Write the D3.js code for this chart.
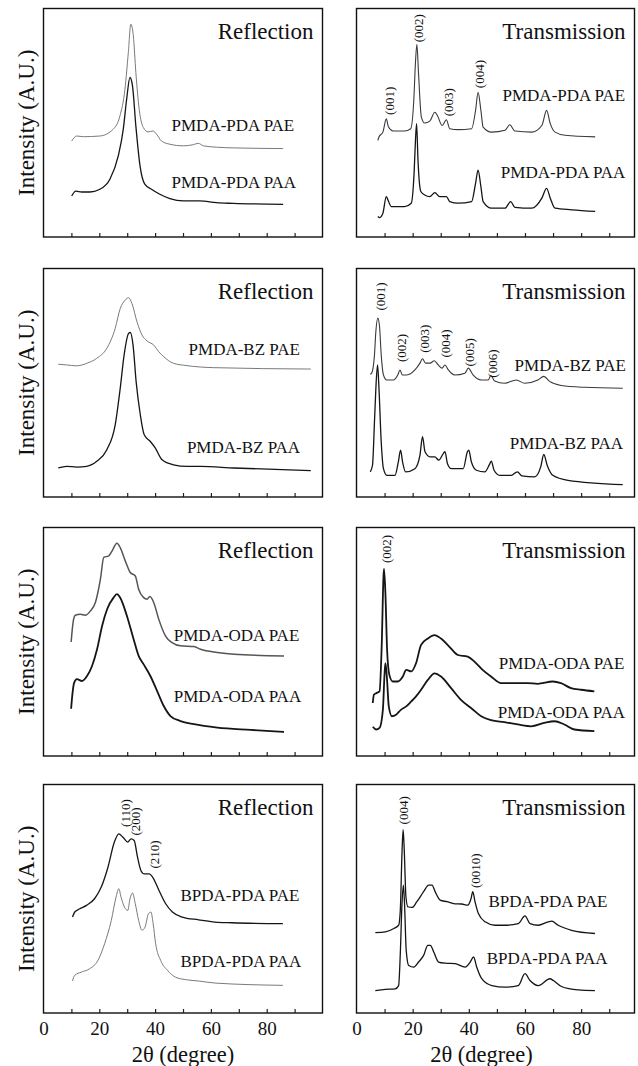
<!DOCTYPE html>
<html>
<head>
<meta charset="utf-8">
<script src="https://cdn.jsdelivr.net/npm/d3@7"></script>
<style>
body { margin: 0; background: #fff; }
svg { display: block; }
text { font-family: "Liberation Serif", "Times New Roman", serif; fill: #111; }
</style>
</head>
<body>
<svg id="fig" width="638" height="1066"></svg>
<script>
// curves: [2theta, intensity in % of panel height]
var pdaReflPAE = [[10.1,42.0],[11.9,44.2],[14.3,43.9],[20.2,44.2],[25,47.2],[27.4,53],[29.2,64.7],[30.4,80.7],[31.3,93.1],[32.2,88],[33.1,72],[34.3,55.9],[35.8,47.9],[37.5,46],[39.3,46.4],[40.5,45],[42.3,42],[45.3,40.6],[50.1,39.9],[53.7,40.4],[55.5,41],[57.3,39.9],[62,39.3],[68,39],[85.9,38.7]];
var pdaReflPAA = [[10.1,18],[11.6,20.1],[13.7,19.7],[16.6,19.7],[20.2,20.9],[23.8,25.3],[26.8,35.5],[28.6,47.2],[29.8,60.3],[31,69.8],[31.9,66.1],[33.1,48.6],[34.6,31.1],[36.3,23.1],[38.7,20.9],[41.7,18.7],[45.3,16.8],[50.1,15.8],[56,15.8],[62,15],[68,14.7],[85.9,14.3]];
var pdaTransPAE = [[7.6,42.3],[8,43.8],[9.4,45.9],[10.6,51.7],[11.4,48.1],[13,46.4],[17.1,46.4],[19.3,47.4],[20.4,59.7],[21,76.4],[21.5,84.3],[22.1,71.3],[23.1,52.5],[24.3,49.9],[26.1,50.7],[27.9,54.6],[28.8,53.2],[30.5,48.8],[32,51.3],[33.2,47.4],[36.2,47],[41,47.4],[42.4,55.4],[43.3,63.3],[44.3,55.4],[45.1,48.1],[48.1,45.9],[52.9,46.7],[54.6,49.1],[56.4,46.4],[62.4,45.9],[66,48.8],[67.7,55.4],[69,49.6],[70.7,45.9],[74.3,44.5],[85,43.8]];
var pdaTransPAA = [[7.6,9],[8.2,8.5],[9.4,10.4],[10.6,17.7],[11.2,16.2],[12.4,13.3],[17.1,13.3],[19.5,14.8],[20.5,27.8],[21,42.3],[21.4,49.6],[21.9,33.6],[22.9,19.9],[24.3,18.4],[26.1,17.7],[27.9,19.4],[29.6,17.7],[32,17.7],[33.2,15.5],[36.2,14.8],[41,15.5],[42.4,23.5],[43.3,29.3],[44.3,22],[45.1,15.5],[48.1,12.6],[52.9,12.6],[54.9,15.5],[56.4,13],[62.4,12.6],[66,17],[67.7,21.3],[69,17],[70.7,12.6],[76.7,11.9],[85,11.2]];

var bzReflPAE = [[5.3,58.1],[8.3,57.8],[11.9,57.4],[15.5,58.5],[19.1,60.7],[22.7,65.1],[25.7,73.8],[27.5,82.5],[29.3,86.2],[30.5,87.2],[31.7,84.7],[33.5,76.7],[35.3,70.9],[37.1,68.3],[39.5,66.5],[41.3,63.6],[43.1,61.4],[46.6,58.5],[51.4,57.5],[61,56.6],[95.8,56]];
var bzReflPAA = [[5.3,12.7],[8.3,13.4],[11.9,13.1],[15.5,13.4],[19.1,15.6],[22.7,20.7],[25.7,31.6],[27.5,47.6],[28.9,62.2],[30.5,71.6],[31.1,72],[32.1,66.5],[33.2,50.5],[34.7,36],[36.1,27.2],[38.3,24.3],[40.1,21.4],[42.5,16.3],[46.6,14.1],[51.4,13.4],[56.2,13.4],[68.2,12.7],[95.8,11.5]];
var bzTransPAE = [[4.9,53.7],[5.4,54.2],[6.4,62.2],[6.9,72.5],[7.6,78.3],[8.2,74.7],[8.8,62.2],[9.6,53.4],[10.8,51.2],[13.1,51.2],[14.7,53.4],[15.5,55.6],[16.3,53.4],[17.9,53.4],[20.8,55.6],[22.6,58.6],[23.5,60.5],[24.6,58.6],[26.2,58.6],[27.7,59.6],[29.1,57.8],[30.5,56.4],[31.5,57.8],[32.7,55.6],[35,53.4],[38.6,54.2],[39.8,56.4],[41.5,53.4],[44.5,51.2],[46.9,51.2],[47.8,53.1],[49.2,50.8],[52.8,49.8],[56.9,51.2],[59.9,49.8],[64.6,51.2],[66.7,52.8],[68.8,50.6],[72.9,48.8],[81.2,48],[94.8,47.6]];
var bzTransPAA = [[4.9,11],[5.7,13.9],[6.4,32.9],[6.9,47.6],[7.5,57.8],[8,47.6],[8.8,24.2],[9.6,12.4],[10.8,9.5],[13.7,9.5],[14.9,15.4],[15.7,20.5],[16.4,15.4],[17.5,11],[20.8,12.4],[22.6,18.3],[23.5,26.4],[24.4,19.8],[26.2,17.6],[27.9,17.6],[29.3,16.1],[30.9,19],[31.5,19.8],[32.4,14.6],[33.8,12.4],[38,12.4],[39.5,19.8],[40,20.5],[40.9,15.4],[42.7,11.7],[45.7,11],[47.5,14.6],[48,15.7],[49,11.7],[51,9.5],[55.1,9.5],[57.3,11],[58.9,9.2],[63.4,8.8],[65.6,13.2],[66.7,18.6],[67.9,13.9],[69.9,9.5],[75.3,7.3],[94.8,5.4]];

var odaReflPAE = [[9.9,49.9],[10.2,54],[10.8,59.9],[11.4,61.6],[13.2,62],[15,61.6],[16.8,63.5],[18.6,67.2],[20.4,77.4],[21.6,86.9],[23.4,87.6],[24.6,89.8],[26.3,93.1],[27.5,91.2],[29.3,85.4],[31.1,80.3],[32.9,78.8],[34.1,73],[35.9,69.3],[37.1,68.6],[38.1,69.8],[39.5,67.2],[41.3,59.9],[43.7,52.6],[46.1,49.6],[49.1,48.2],[53.9,47.9],[56.3,46.7],[62.3,45.3],[68.3,44.5],[86.2,43.8]];
var odaReflPAA = [[9.9,20.7],[10.3,26.3],[11,32.1],[12,33.6],[13.8,32.8],[15.6,35],[17.4,39.4],[19.2,46.7],[21,56.9],[22.8,64.2],[25.1,69.3],[26.3,70.8],[27.5,69.3],[29.9,61.3],[32.3,51.1],[34.1,43.8],[35.9,40.1],[38.3,35],[40.7,28.5],[43.1,21.9],[45.5,17.5],[49.1,15.3],[53.9,13.9],[62.3,12.4],[74.3,11.4],[86.2,10.5]];
var odaTransPAE = [[5.8,23.2],[6.2,26.8],[7,27.5],[8.2,28.3],[9,49.3],[9.6,78.3],[9.8,81.9],[10.3,71],[10.9,46.4],[11.7,35.5],[12.9,32.6],[14.7,32.6],[16.5,34.8],[17.7,37.7],[19.5,37],[21.2,40.6],[23,48.6],[25.4,51.4],[27.8,52.9],[30.1,51.4],[33.1,47.8],[36.1,44.2],[39.6,43.5],[42,41.3],[44.9,37.7],[47.9,34.8],[51.5,31.9],[55,31.9],[61,31.9],[64.5,31.6],[69.9,32.6],[72.8,31.9],[76.4,29.7],[80,29],[84.7,28.3]];
var odaTransPAA = [[5.8,12.8],[7,11.6],[8.2,12.3],[9.4,20.3],[10,36.2],[10.3,40.6],[10.8,34.8],[11.5,21.7],[12.6,17.4],[14.1,18.1],[15.9,20.3],[17.7,21.7],[19.5,23.9],[21.2,26.1],[23,29],[25.4,33.3],[27.8,36.2],[30.1,34.8],[33.7,29.7],[37.2,24.6],[40.8,21],[44.4,17.4],[47.9,15.7],[52.7,14.8],[57.4,13.8],[62.2,13],[66.9,14.5],[70.5,15.2],[74,13.8],[77.6,11.6],[84.7,10.9]];

var bpdaReflPAE = [[10.4,42],[11.2,44.2],[13,45.6],[15.4,47.1],[18.3,50],[20.7,55.1],[23.1,63.8],[25.4,74.8],[27,78.4],[28.4,77],[30.2,74.8],[31.4,76.2],[32.5,75.5],[33.7,68.2],[34.9,62.4],[36.1,60.9],[37.9,60.9],[39.1,59.5],[41.4,53.6],[43.8,47.8],[46.2,44.2],[49.7,42],[55.6,40.8],[61.5,39.8],[67.5,39.5],[85.8,39.1]];
var bpdaReflPAA = [[10.4,14],[11.2,16.5],[13.6,17.9],[16.6,19.4],[19.5,23],[21.9,30.3],[24.3,40.5],[26,50.7],[27,54.4],[27.8,50.7],[29,46.4],[30.2,44.9],[31,50],[31.9,52.5],[32.9,47.8],[34.1,40.5],[35.3,36.2],[36.4,37.6],[37.6,43.4],[38.5,44.2],[39.3,39.1],[40.2,30.3],[42,23],[44.4,18.7],[47.3,15.7],[50.9,14.6],[55.6,14],[61.5,13.1],[85.8,12.1]];
var bpdaTransPAE = [[6.7,35.2],[10.3,35.5],[13.3,37],[15,38.4],[15.6,45],[16.2,70],[16.6,80.2],[17,71.4],[17.6,50.9],[18.3,46.5],[19.8,46.2],[21.5,48.7],[23.9,53.1],[25.7,56],[26.9,56],[28,53.1],[29.8,49.4],[32.2,48.7],[34.6,47.9],[37.5,47.7],[39.6,47.2],[40.8,50.1],[41.4,53.1],[42.2,48.7],[43.4,43.5],[45.8,39.9],[49.3,38.4],[52.9,38.4],[57.6,39.1],[60,42.5],[61.8,39.1],[64.7,38.4],[68.3,39.9],[69.5,40.2],[71.8,38.4],[76.6,36.2],[84.9,34.8]];
var bpdaTransPAA = [[6.7,9.8],[10.3,10.3],[13.8,10.6],[15,12],[15.6,26],[16.2,47.9],[16.7,56],[17.1,47.9],[17.7,27.4],[18.6,20.8],[20.4,20.1],[22.1,22.3],[23.9,25.2],[25.4,29.6],[26.3,29.6],[27.5,26.7],[29.2,22.3],[31.6,21.8],[35.1,21.6],[38.7,20.1],[40.5,22.3],[41.7,24.5],[42.8,20.1],[44.6,15],[48.2,12],[52.9,11.3],[57.6,12],[60,17.2],[61.8,14.2],[64.7,12],[68.9,15],[70.1,14.2],[73,11.6],[78.9,10.1],[84.9,9.8]];

// sample names: [text, 2theta at start, intensity % at baseline]
var pdaReflNames = [["PMDA-PDA PAE",45.9,46.4],["PMDA-PDA PAA",45.9,21.6]];
var pdaTransNames = [["PMDA-PDA PAE",52,59.4],["PMDA-PDA PAA",51.4,25.7]];
var bzReflNames = [["PMDA-BZ PAE",52,62.2],["PMDA-BZ PAA",51.4,19.2]];
var bzTransNames = [["PMDA-BZ PAE",56.3,55],["PMDA-BZ PAA",54.6,20.9]];
var odaReflNames = [["PMDA-ODA PAE",46.7,50.4],["PMDA-ODA PAA",46.7,23.6]];
var odaTransNames = [["PMDA-ODA PAE",50.7,38],["PMDA-ODA PAA",50.3,16.7]];
var bpdaReflNames = [["BPDA-PDA PAE",49.1,48.8],["BPDA-PDA PAA",49.1,20.1]];
var bpdaTransNames = [["BPDA-PDA PAE",47,46.2],["BPDA-PDA PAA",46.4,21.3]];

// reflection indices: [text, 2theta centre, intensity % centre]
var pdaTransHkl = [["(001)",11.8,59.6],["(002)",21.9,91.4],["(003)",32.6,59],["(004)",43.8,71.3]];
var bzTransHkl = [["(001)",8.4,87.8],["(002)",16.1,65.2],["(003)",24.1,69.3],["(004)",31.8,67.2],["(005)",40.1,63.3],["(006)",48.4,58.4]];
var odaTransHkl = [["(002)",10.7,90.6]];
var bpdaReflHkl = [["(110)",29.2,87.5],["(200)",33.1,83.8],["(210)",39.7,69.4]];
var bpdaTransHkl = [["(004)",16.8,88.7],["(0010)",42.4,62.3]];

var titles = ["Reflection", "Transmission"];
var tickLabels = [0, 20, 40, 60, 80];
var minorTicks = [10, 20, 30, 40, 50, 60, 70, 80, 90];

var panels = [
    {row: 0, col: 0, curves: [[pdaReflPAE, "light"], [pdaReflPAA, "dark"]], names: pdaReflNames, hkl: []},
    {row: 0, col: 1, curves: [[pdaTransPAE, "mid"], [pdaTransPAA, "dark"]], names: pdaTransNames, hkl: pdaTransHkl},
    {row: 1, col: 0, curves: [[bzReflPAE, "light"], [bzReflPAA, "dark"]], names: bzReflNames, hkl: []},
    {row: 1, col: 1, curves: [[bzTransPAE, "mid"], [bzTransPAA, "dark"]], names: bzTransNames, hkl: bzTransHkl},
    {row: 2, col: 0, curves: [[odaReflPAE, "fuzzLight"], [odaReflPAA, "fuzz"]], names: odaReflNames, hkl: []},
    {row: 2, col: 1, curves: [[odaTransPAE, "fuzz"], [odaTransPAA, "fuzz"]], names: odaTransNames, hkl: odaTransHkl},
    {row: 3, col: 0, curves: [[bpdaReflPAE, "dark"], [bpdaReflPAA, "light"]], names: bpdaReflNames, hkl: bpdaReflHkl},
    {row: 3, col: 1, curves: [[bpdaTransPAE, "dark"], [bpdaTransPAA, "dark"]], names: bpdaTransNames, hkl: bpdaTransHkl}
];

var rowTop = [8.5, 268.5, 527.5, 784.5];
var panelH = 228.5;
var colLeft = [43.5, 356.5];
var colRight = [322.5, 634.5];
var colMax = [100, 99];
var tone = {
    light: ["#7a7a7a", 1],
    mid: ["#3a3a3a", 1.1],
    dark: ["#151515", 1.3],
    fuzzLight: ["#555", 1.5],
    fuzz: ["#151515", 1.8]
};

var svg = d3.select("#fig");

panels.forEach(function(p) {
    var top = rowTop[p.row], bottom = top + panelH;
    var x = d3.scaleLinear().domain([0, colMax[p.col]]).range([colLeft[p.col], colRight[p.col]]);
    var y = d3.scaleLinear().domain([0, 100]).range([bottom, top]);
    var g = svg.append("g");

    // minor ticks pointing into the box
    g.append("g")
        .attr("transform", "translate(0," + bottom + ")")
        .call(d3.axisBottom(x).tickValues(minorTicks).tickSize(-4).tickFormat(""))
        .call(function(a) {
            a.select(".domain").remove();
            a.selectAll("line").attr("stroke", "#222").attr("stroke-width", 1.2);
        });

    if (p.row == 3) {
        g.append("g")
            .attr("transform", "translate(0," + bottom + ")")
            .call(d3.axisBottom(x).tickValues(tickLabels).tickSize(0).tickPadding(9).tickFormat(d3.format("d")))
            .call(function(a) {
                a.select(".domain").remove();
                a.selectAll("text").attr("font-size", 19).attr("font-family", "Liberation Serif").attr("fill", "#111");
            });
        g.append("text")
            .attr("x", x(p.col == 0 ? 50 : 44.5))
            .attr("y", bottom + 49)
            .attr("text-anchor", "middle")
            .attr("font-size", 22.5)
            .text("2θ (degree)");
    }

    if (p.col == 0) {
        g.append("text")
            .attr("transform", "translate(34," + (top + panelH / 2) + ") rotate(-90)")
            .attr("text-anchor", "middle")
            .attr("font-size", 23)
            .text("Intensity (A.U.)");
    }

    var line = d3.line()
        .x(function(d) { return x(d[0]); })
        .y(function(d) { return y(d[1]); })
        .curve(d3.curveMonotoneX);

    p.curves.forEach(function(c) {
        g.append("path")
            .attr("d", line(c[0]))
            .attr("fill", "none")
            .attr("stroke", tone[c[1]][0])
            .attr("stroke-width", tone[c[1]][1])
            .attr("stroke-linejoin", "round");
    });

    g.selectAll("text.name").data(p.names).enter()
        .append("text")
        .attr("class", "name")
        .attr("x", function(d) { return x(d[1]); })
        .attr("y", function(d) { return y(d[2]); })
        .attr("font-size", 17)
        .text(function(d) { return d[0]; });

    g.selectAll("text.hkl").data(p.hkl).enter()
        .append("text")
        .attr("class", "hkl")
        .attr("transform", function(d) { return "translate(" + x(d[1]) + "," + y(d[2]) + ") rotate(-90)"; })
        .attr("text-anchor", "middle")
        .attr("dy", "0.35em")
        .attr("font-size", 13)
        .text(function(d) { return d[0]; });

    g.append("text")
        .attr("x", colRight[p.col] - 9)
        .attr("y", top + 30)
        .attr("text-anchor", "end")
        .attr("font-size", 23)
        .text(titles[p.col]);

    g.append("rect")
        .attr("x", colLeft[p.col])
        .attr("y", top)
        .attr("width", colRight[p.col] - colLeft[p.col])
        .attr("height", panelH)
        .attr("fill", "none")
        .attr("stroke", "#111")
        .attr("stroke-width", 1.4);
});
</script>
</body>
</html>
